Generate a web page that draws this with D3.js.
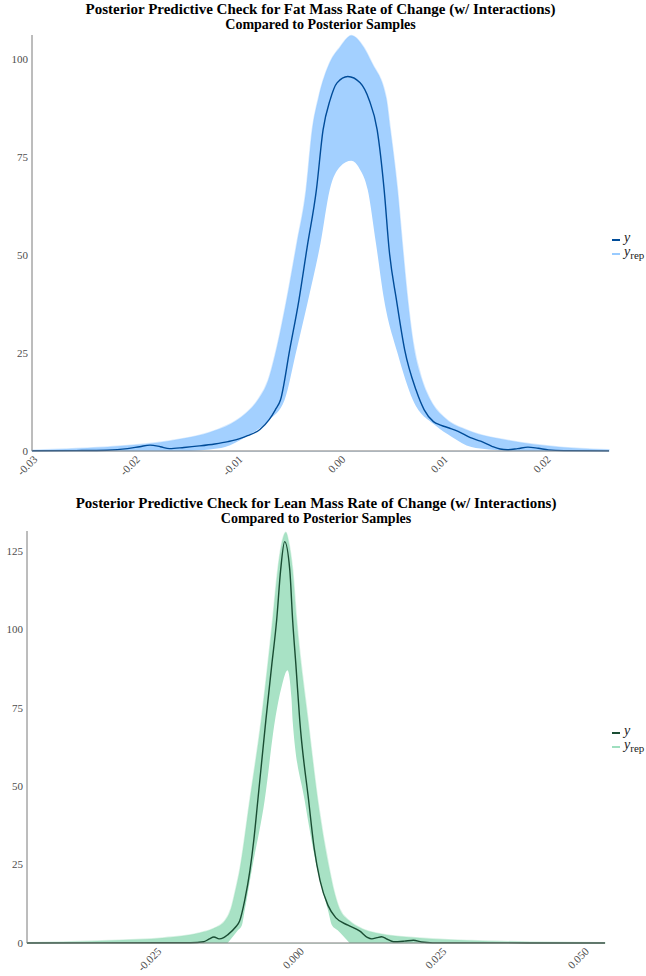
<!DOCTYPE html>
<html>
<head>
<meta charset="utf-8">
<script src="https://cdn.jsdelivr.net/npm/d3@7"></script>
<style>
  body { margin: 0; background: #fff; }
  .title { font-weight: bold; font-size: 15px; fill: #000; }
  .subtitle { font-weight: bold; font-size: 14px; fill: #000; }
  .tick-label { font-size: 11px; fill: #4d4d4d; }
  .legend { font-size: 14px; fill: #222; }
</style>
</head>
<body>
<svg id="chart" width="646" height="976"></svg>
<script>
const SERIF = "'Times New Roman', 'Liberation Serif', Times, 'DejaVu Serif', serif"

// ---- fat mass panel: observed density (y) ----
const fatObsX = [-0.0303, -0.026, -0.023, -0.021, -0.0198, -0.0188, -0.0178, -0.0169, -0.0155, -0.014, -0.0125, -0.0112, -0.0100, -0.0093, -0.0081, -0.0072, -0.0066, -0.0061, -0.0052, -0.0043, -0.0035, -0.0026, -0.00195, -0.00127, -0.00059, 0.00046, 0.00166, 0.00254, 0.00332, 0.0040, 0.0045, 0.0052, 0.0060, 0.0071, 0.0079, 0.0088, 0.0095, 0.0104, 0.0112, 0.0124, 0.0134, 0.0145, 0.0153, 0.0160, 0.0170, 0.0180, 0.0190, 0.0200, 0.0215, 0.0259]
const fatObsY = [0.05, 0.1, 0.2, 0.6, 1.1, 1.5, 1.1, 0.6, 0.9, 1.3, 1.8, 2.4, 3.2, 3.9, 5.5, 8, 10.5, 13, 25.8, 38.5, 52, 66.6, 81.9, 89.5, 93.9, 95.5, 93.9, 89.5, 81.9, 66.6, 51, 38.5, 25.8, 15.6, 10.5, 7.5, 6.6, 5.8, 5.0, 3.4, 2.5, 1.2, 0.5, 0.3, 0.6, 1.0, 0.7, 0.3, 0.1, 0.02]
// yrep draws: upper and lower envelope of the overlaid densities
const fatRepHiX = [-0.0303, -0.027, -0.022, -0.0168, -0.0125, -0.0105, -0.0093, -0.0083, -0.0073, -0.0064, -0.0055, -0.0045, -0.0036, -0.0030, -0.0024, -0.0013, -0.0003, 0.0008, 0.0020, 0.0028, 0.0042, 0.0046, 0.0053, 0.0058, 0.0063, 0.0068, 0.0077, 0.0085, 0.0100, 0.0122, 0.0163, 0.0210, 0.0259]
const fatRepHiY = [0.2, 0.5, 1.2, 2.6, 5.2, 7.6, 10, 13, 18, 27, 38.5, 53, 66.6, 82, 90, 99, 103, 106, 103, 99, 90, 82, 66.6, 52, 38.5, 28, 18, 13, 8.2, 5.2, 2.6, 1.0, 0.3]
const fatRepLoX = [-0.0150, -0.0130, -0.0115, -0.0095, -0.0072, -0.0057, -0.0046, -0.0034, -0.0022, -0.0013, -0.0003, 0.0008, 0.0016, 0.0024, 0.0032, 0.0040, 0.0053, 0.0068, 0.0090, 0.0106, 0.0125, 0.0142, 0.0160]
const fatRepLoY = [0, 0.4, 1.0, 3.6, 7.9, 13, 25, 38.5, 53, 66.6, 72.5, 74, 72, 66.6, 53, 38.5, 25, 13, 6.5, 3.6, 1.0, 0.4, 0]
const fatTicksX = [-0.03, -0.02, -0.01, 0.00, 0.01, 0.02]
const fatTicksY = [0, 25, 50, 75, 100]

// ---- lean mass panel ----
const leanObsX = [-0.0482, -0.035, -0.025, -0.0195, -0.0172, -0.0163, -0.0154, -0.0145, -0.0137, -0.0130, -0.0116, -0.0109, -0.0100, -0.0091, -0.0084, -0.0077, -0.0063, -0.0053, -0.0044, -0.0037, -0.0030, -0.0021, -0.0016, -0.0010, -0.00035, 0.0012, 0.0022, 0.0032, 0.0046, 0.0060, 0.0081, 0.0102, 0.0115, 0.0123, 0.0132, 0.0140, 0.0150, 0.0161, 0.0180, 0.0196, 0.0210, 0.0230, 0.0532]
const leanObsY = [0.02, 0.05, 0.08, 0.1, 0.4, 1.2, 1.9, 1.3, 1.7, 2.6, 5.1, 7, 13.7, 23, 33, 45.6, 71, 88, 103, 119, 128, 119, 103, 88, 71, 45.6, 30, 20, 12, 8, 5.7, 3.8, 1.8, 1.3, 1.7, 2.0, 1.2, 0.4, 0.6, 0.9, 0.3, 0.05, 0.01]
const leanRepHiX = [-0.0482, -0.042, -0.0337, -0.024, -0.018, -0.0155, -0.0135, -0.0124, -0.0116, -0.0109, -0.0091, -0.0071, -0.0051, -0.0042, -0.0033, -0.0028, -0.0022, -0.0016, -0.0009, 0.0011, 0.0028, 0.0049, 0.0056, 0.0066, 0.0084, 0.0105, 0.0130, 0.0207, 0.0295, 0.0400, 0.0532]
const leanRepHiY = [0.1, 0.3, 0.8, 1.7, 3.2, 4.6, 7, 11, 17, 23, 45.6, 71, 103, 119, 129, 131, 127, 119, 103, 71, 45.6, 23, 17, 11, 7, 4.6, 3.2, 1.6, 0.8, 0.3, 0.05]
const leanRepLoX = [-0.0130, -0.0112, -0.0105, -0.0100, -0.0088, -0.0065, -0.0047, -0.0035, -0.0025, -0.0018, -0.0016, 0.0005, 0.0028, 0.0046, 0.0053, 0.0063, 0.0084]
const leanRepLoY = [0, 4.1, 5.7, 10.5, 23, 45.6, 71, 82, 87, 78, 71, 45.6, 23, 10.5, 5.7, 4.1, 0]
const leanTicksX = [-0.025, 0.000, 0.025, 0.050]
const leanTicksY = [0, 25, 50, 75, 100, 125]

const svg = d3.select("#chart").attr("font-family", SERIF)

function density_panel(cfg)
{
    let xScale = d3.scaleLinear().domain(cfg.xDomain).range(cfg.xRange)
    let yScale = d3.scaleLinear().domain(cfg.yDomain).range(cfg.yRange)
    let g = svg.append("g")
    let baseY = cfg.yRange[0]

    let area = (xs, ys) => d3.area()
        .x((d, i) => xScale(xs[i]))
        .y0(baseY)
        .y1((d, i) => yScale(ys[i]))
        .curve(d3.curveMonotoneX)(xs)

    // band of replicated densities: fill to the upper envelope, then blank below the lower one
    g.append("path").attr("d", area(cfg.hiX, cfg.hiY))
        .attr("fill", cfg.light).attr("fill-opacity", 0.9)
        .attr("stroke", cfg.light).attr("stroke-opacity", 0.4).attr("stroke-width", 1.5)
    g.append("path").attr("d", area(cfg.loX, cfg.loY))
        .attr("fill", "#fff")

    // observed density
    let line = d3.line()
        .x((d, i) => xScale(cfg.obsX[i]))
        .y((d, i) => yScale(cfg.obsY[i]))
        .curve(d3.curveMonotoneX)
    g.append("path").attr("d", line(cfg.obsX))
        .attr("fill", "none").attr("stroke", cfg.dark).attr("stroke-width", 1.4)

    // axes
    g.append("line")
        .attr("x1", cfg.xRange[0]).attr("x2", cfg.xRange[1])
        .attr("y1", baseY).attr("y2", baseY)
        .attr("stroke", "#7a7a7a").attr("stroke-width", 1)
    g.append("line")
        .attr("x1", cfg.xRange[0]).attr("x2", cfg.xRange[0])
        .attr("y1", cfg.yRange[0]).attr("y2", cfg.yRange[1])
        .attr("stroke", "#7a7a7a").attr("stroke-width", 1)

    g.selectAll(".ytick").data(cfg.yTicks).enter()
        .append("text").attr("class", "tick-label")
        .style("font-family", SERIF)
        .attr("x", cfg.xRange[0] - 4)
        .attr("y", d => yScale(d))
        .attr("dy", "0.35em")
        .attr("text-anchor", "end")
        .text(d => d)

    g.selectAll(".xtick").data(cfg.xTicks).enter()
        .append("text").attr("class", "tick-label")
        .style("font-family", SERIF)
        .attr("transform", d => `translate(${xScale(d) + 3},${baseY + 9}) rotate(-45)`)
        .attr("text-anchor", "end")
        .text(d => d3.format(cfg.xFormat)(d).replace("−", "-"))

    // titles, centred on the panel
    let cx = (cfg.xRange[0] + cfg.xRange[1]) / 2
    g.append("text").attr("class", "title").style("font-family", SERIF)
        .attr("x", cx).attr("y", cfg.titleY)
        .attr("text-anchor", "middle").text(cfg.title)
    g.append("text").attr("class", "subtitle").style("font-family", SERIF)
        .attr("x", cx).attr("y", cfg.titleY + 15)
        .attr("text-anchor", "middle").text("Compared to Posterior Samples")

    // legend
    let lg = g.append("g").attr("transform", `translate(612,${cfg.legendY})`)
    lg.append("line").attr("x1", 0).attr("x2", 8).attr("y1", 0).attr("y2", 0)
        .attr("stroke", cfg.dark).attr("stroke-width", 2)
    lg.append("line").attr("x1", 0).attr("x2", 8).attr("y1", 14).attr("y2", 14)
        .attr("stroke", cfg.light).attr("stroke-width", 2)
    lg.append("text").attr("class", "legend").style("font-family", SERIF)
        .attr("x", 12).attr("y", 2)
        .style("font-style", "italic").text("y")
    let rep = lg.append("text").attr("class", "legend").style("font-family", SERIF)
        .attr("x", 12).attr("y", 16)
    rep.append("tspan").style("font-style", "italic").text("y")
    rep.append("tspan").attr("dy", 3).style("font-size", "11px").text("rep")
}

density_panel({
    obsX: fatObsX, obsY: fatObsY,
    hiX: fatRepHiX, hiY: fatRepHiY,
    loX: fatRepLoX, loY: fatRepLoY,
    xTicks: fatTicksX, yTicks: fatTicksY, xFormat: ".2f",
    xDomain: [-0.0303, 0.0259], xRange: [32, 609],
    yDomain: [0, 106.1], yRange: [451, 35],
    light: "#99cbff", dark: "#004c99",
    title: "Posterior Predictive Check for Fat Mass Rate of Change (w/ Interactions)",
    titleY: 14, legendY: 240
})

density_panel({
    obsX: leanObsX, obsY: leanObsY,
    hiX: leanRepHiX, hiY: leanRepHiY,
    loX: leanRepLoX, loY: leanRepLoY,
    xTicks: leanTicksX, yTicks: leanTicksY, xFormat: ".3f",
    xDomain: [-0.0482, 0.0532], xRange: [27, 605],
    yDomain: [0, 131.4], yRange: [943, 531],
    light: "#9fdfbf", dark: "#1a4d33",
    title: "Posterior Predictive Check for Lean Mass Rate of Change (w/ Interactions)",
    titleY: 508, legendY: 733
})
</script>
</body>
</html>
